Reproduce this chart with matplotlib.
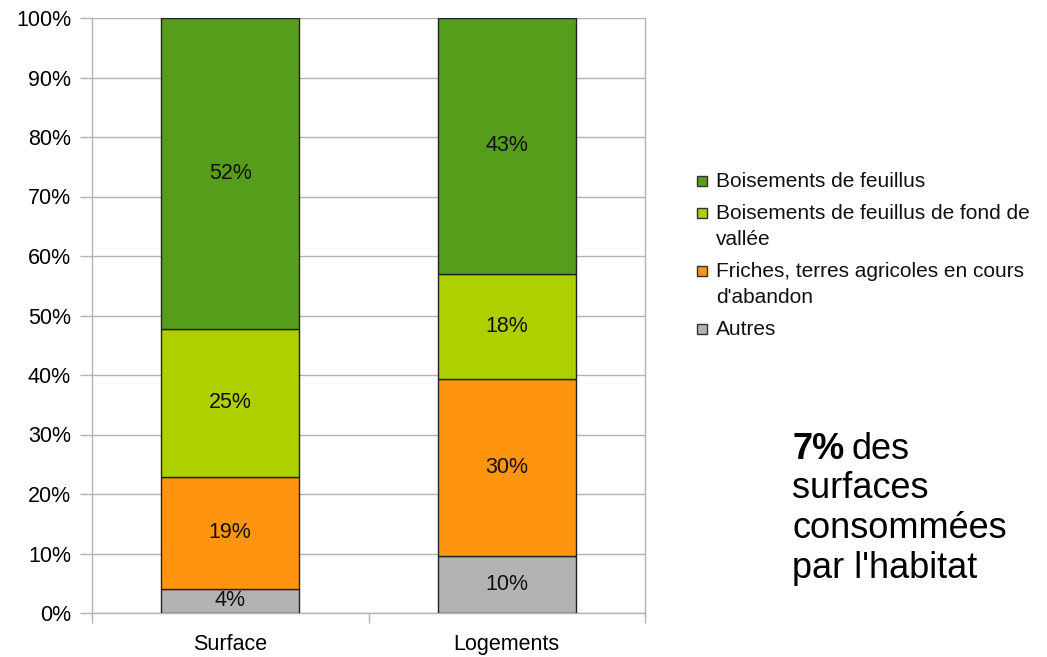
import matplotlib
matplotlib.use('Agg')
import matplotlib.pyplot as plt
from matplotlib.patches import Rectangle
import numpy as np

plt.rcParams['font.family'] = ['Liberation Sans', 'DejaVu Sans']

# donnees (en %)
categories = ['Surface', 'Logements']
series = ['Autres',
          "Friches, terres agricoles en cours\nd'abandon",
          'Boisements de feuillus de fond de\nvallée',
          'Boisements de feuillus']
autres = [4.1, 9.6]
friches = [18.7, 29.8]
fond_vallee = [25.0, 17.6]
feuillus = [52.2, 43.0]
colors = ['#b3b3b3', '#ff950e', '#aecf00', '#579d1c']
yticks = np.arange(0, 101, 10)

W, H = 1047, 657
fig = plt.figure(figsize=(W / 100, H / 100), dpi=100)
ax = fig.add_axes([92 / W, 1 - 613 / H, (645 - 92) / W, (613 - 18) / H])

x = np.arange(len(categories))
bottom = np.zeros(len(categories))
for vals, col in zip([autres, friches, fond_vallee, feuillus], colors):
    vals = np.array(vals)
    bars = ax.bar(x, vals, 0.5, bottom=bottom, color=col, edgecolor='#222222',
                  linewidth=1, zorder=3)
    ax.bar_label(bars, labels=['%d%%' % round(v) for v in vals],
                 label_type='center', fontsize=15.5, color='#111111', zorder=4)
    bottom += vals

ax.set_xlim(-0.5, 1.5)
ax.set_ylim(0, 100)
ax.set_yticks(yticks)
ax.set_yticklabels(['%d%%' % t for t in yticks])
ax.yaxis.grid(True, color='#b3b3b3', linewidth=1, zorder=0)
ax.set_xticks(x)
ax.set_xticklabels(categories)
ax.set_xticks([-0.5, 0.5, 1.5], minor=True)
ax.tick_params(axis='x', which='major', length=0, pad=15, labelsize=15.5)
ax.tick_params(axis='x', which='minor', length=7.5, color='#b3b3b3', width=1)
ax.tick_params(axis='y', length=8.6, color='#b3b3b3', width=1, pad=6.5, labelsize=15.5)
for s in ['left', 'right', 'bottom']:
    ax.spines[s].set_color('#b3b3b3')
    ax.spines[s].set_linewidth(1)
ax.spines['top'].set_visible(False)

# legende (ordre inverse, premiere ligne alignee avec le carre)
def fy(py):
    return 1 - py / H

base = 187
for lab, col in zip(series[::-1], colors[::-1]):
    fig.patches.append(Rectangle((697 / W, fy(base - 1)), 10 / W, 10 / H,
                                 transform=fig.transFigure, facecolor=col,
                                 edgecolor='#333333', linewidth=1))
    lines = lab.split('\n')
    for i, ln in enumerate(lines):
        fig.text(716 / W, fy(base + 26 * i), ln, fontsize=15, va='baseline',
                 ha='left', color='#111111')
    base += 26 * (len(lines) - 1) + 32

# texte
t1 = fig.text(792 / W, fy(459), '7%', fontsize=26, fontweight='bold', va='baseline')
fig.canvas.draw()
bb = t1.get_window_extent()
fig.text((bb.x1 + 7) / W, fy(459), 'des', fontsize=26, va='baseline')
for i, ln in enumerate(['surfaces', 'consommées', "par l'habitat"]):
    fig.text(792 / W, fy(459 + 39.5 * (i + 1)), ln, fontsize=26, va='baseline')

fig.savefig('out.png', dpi=100)
